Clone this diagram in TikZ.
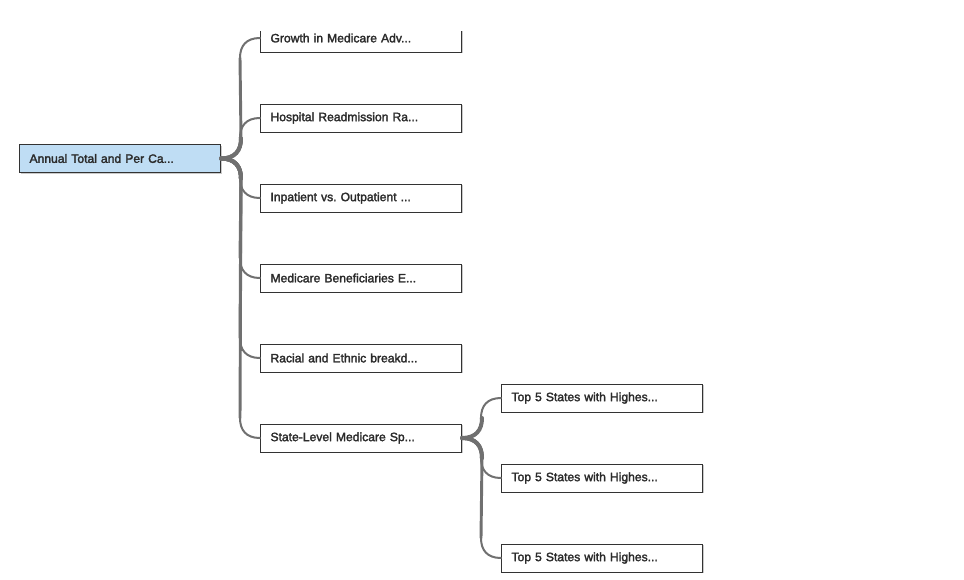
\documentclass[tikz,border=0pt]{standalone}
\usepackage{fontspec}
\setmainfont{Liberation Sans}[FakeBold=2.2]
\frenchspacing
\usetikzlibrary{shadows}
\definecolor{rootfill}{HTML}{BFDDF4}
\definecolor{linkgray}{HTML}{707070}
\definecolor{boxline}{HTML}{333333}
\definecolor{labeltext}{HTML}{2B2B2B}
\tikzset{
  topic/.style={draw=boxline, line width=0.75pt, fill=white, rectangle,
    minimum width=201*0.75pt, minimum height=28*0.75pt,
    text width=181*0.75pt, inner xsep=10*0.75pt, inner ysep=0pt, align=left,
    anchor=west, font=\fontsize{9.1}{11}\selectfont\color{labeltext},
    drop shadow={shadow xshift=1pt, shadow yshift=-1pt, opacity=0.35, fill=black!60}},
  roottopic/.style={topic, fill=rootfill},
  link/.style={draw=linkgray, line cap=round, line join=round},
  linkroot/.style={link, line width=3pt},
  linktrunk/.style={link, line width=2.2pt},
  linkleaf/.style={link, line width=1.5pt}
}
% connector from the east side of #1 to the west side of #2; #3 = -1 upwards, 1 downwards.
% The stroke gets thinner from the parent towards the child.
\newcommand{\mmlink}[3]{%
  \draw[linkroot] (#1.east) .. controls ([xshift=14*0.75pt]#1.east) and
    ([xshift=20*0.75pt, yshift=-#3*8*0.75pt]#1.east) ..
    ([xshift=20*0.75pt, yshift=-#3*20*0.75pt]#1.east);
  \draw[linktrunk] ([xshift=20*0.75pt, yshift=-#3*20*0.75pt]#1.east)
    -- ([xshift=-20*0.75pt, yshift=#3*20*0.75pt]#2.west);
  \draw[linkleaf] ([xshift=-20*0.75pt, yshift=#3*20*0.75pt]#2.west)
    .. controls ([xshift=-20*0.75pt, yshift=#3*8*0.75pt]#2.west) and
    ([xshift=-14*0.75pt]#2.west) .. (#2.west);}
\begin{document}
\begin{tikzpicture}[x=0.75pt,y=-0.75pt]
\useasboundingbox (0,0) rectangle (964,579);
\begin{scope}
\clip (0,31) rectangle (964,579);
% topic boxes
\node[roottopic] (root) at (19,158.5) {Annual Total and Per Ca...};
\node[topic] (c1) at (260,38) {Growth in Medicare Adv...};
\node[topic] (c2) at (260,118) {Hospital Readmission Ra...};
\node[topic] (c3) at (260,198) {Inpatient vs. Outpatient ...};
\node[topic] (c4) at (260,278) {Medicare Beneficiaries E...};
\node[topic] (c5) at (260,358) {Racial and Ethnic breakd...};
\node[topic] (c6) at (260,438) {State-Level Medicare Sp...};
\node[topic] (g1) at (501,398) {Top 5 States with Highes...};
\node[topic] (g2) at (501,478) {Top 5 States with Highes...};
\node[topic] (g3) at (501,558) {Top 5 States with Highes...};
% connectors between the boxes
\mmlink{root}{c1}{-1}
\mmlink{root}{c2}{-1}
\mmlink{root}{c3}{1}
\mmlink{root}{c4}{1}
\mmlink{root}{c5}{1}
\mmlink{root}{c6}{1}
\mmlink{c6}{g1}{-1}
\mmlink{c6}{g2}{1}
\mmlink{c6}{g3}{1}
\end{scope}
\end{tikzpicture}
\end{document}
